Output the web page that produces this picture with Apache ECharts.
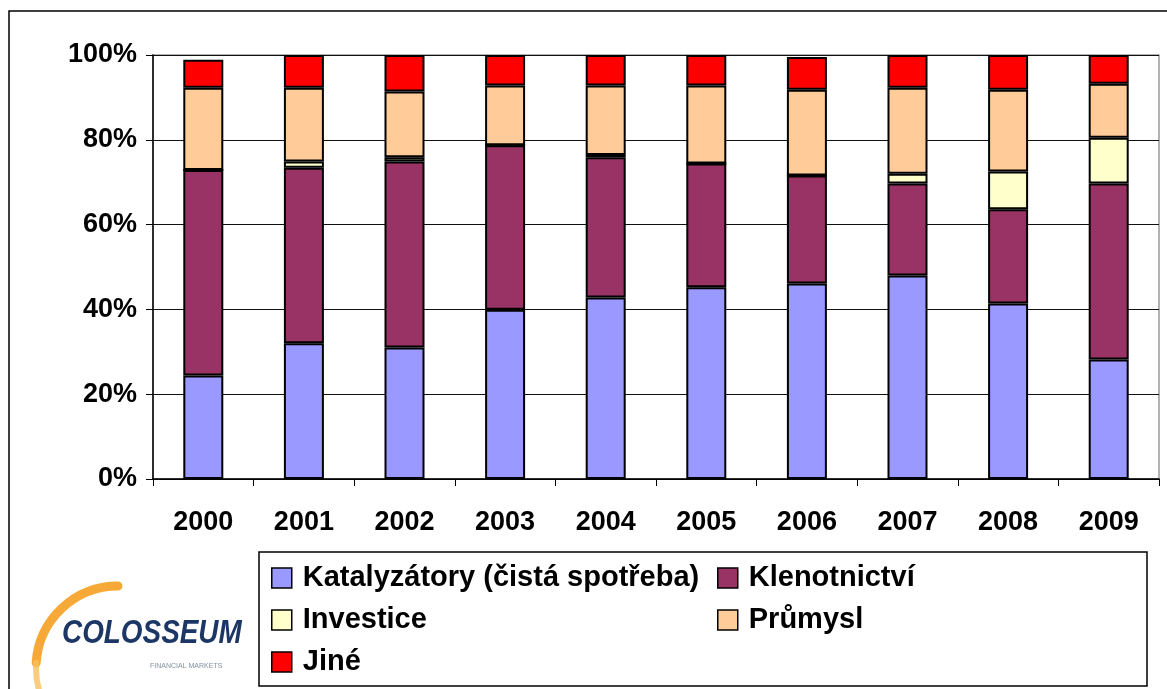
<!DOCTYPE html>
<html><head><meta charset="utf-8">
<script src="https://cdn.jsdelivr.net/npm/echarts@6/dist/echarts.min.js"></script>
<style>html,body{margin:0;padding:0;background:#fff}#c{width:1167px;height:689px}</style>
</head><body><div id="c"></div>
<script>
const years = ['2000','2001','2002','2003','2004','2005','2006','2007','2008','2009'];
const katalyzatory = [24.4, 32.0, 31.0, 39.9, 42.8, 45.2, 46.1, 48.0, 41.4, 28.2];
const klenotnictvi = [48.5, 41.4, 43.9, 38.8, 33.1, 29.2, 25.5, 21.7, 22.2, 41.5];
const investice    = [0.0, 1.5, 1.0, 0.0, 0.5, 0.0, 0.0, 2.3, 8.9, 10.8];
const prumysl      = [19.4, 17.4, 15.5, 14.1, 16.4, 18.4, 20.2, 20.3, 19.3, 12.7];
const jine         = [6.6, 7.7, 8.6, 7.2, 7.2, 7.2, 7.7, 7.7, 8.2, 6.8];
const seriesNames = ['Katalyzátory (čistá spotřeba)', 'Klenotnictví', 'Investice', 'Průmysl', 'Jiné'];
const seriesColors = ['#9999FF', '#993366', '#FFFFCC', '#FFCC99', '#FF0000'];
const yTicks = [0, 20, 40, 60, 80, 100];

const chart = echarts.init(document.getElementById('c'));
const font = 'Liberation Sans, Arial, sans-serif';
const allData = [katalyzatory, klenotnictvi, investice, prumysl, jine];
const series = allData.map((d, i) => ({
  name: seriesNames[i], type: 'bar', stack: 'total', data: d,
  barWidth: 40,
  itemStyle: { color: seriesColors[i], borderColor: '#000', borderWidth: 2 },
  emphasis: { disabled: true }
}));
const legendText = { fontFamily: font, fontSize: 29, fontWeight: 'bold', color: '#000', lineHeight: 30, padding: [0, 0, 0, 6] };
const legendCommon = {
  orient: 'vertical', top: 563, height: 140, itemWidth: 20, itemHeight: 20, itemGap: 12,
  icon: 'rect', textStyle: legendText, selectedMode: false, padding: 0,
  itemStyle: { borderColor: '#000', borderWidth: 1.5 }
};
chart.setOption({
  animation: false,
  backgroundColor: '#fff',
  grid: { left: 153, top: 55, width: 1006, height: 424, show: true, borderColor: '#999', borderWidth: 1.5 },
  xAxis: {
    type: 'category', data: years,
    axisLine: { lineStyle: { color: '#000', width: 1.5 } },
    axisTick: { show: true, length: 7, lineStyle: { color: '#000' } },
    axisLabel: { margin: 30, fontFamily: font, fontSize: 27, fontWeight: 'bold', color: '#000' }
  },
  yAxis: {
    type: 'value', min: 0, max: 100, interval: 20,
    axisLine: { show: true, lineStyle: { color: '#000', width: 1.5 } },
    axisTick: { show: true, length: 7, lineStyle: { color: '#000' } },
    splitLine: { lineStyle: { color: '#111', width: 1 } },
    axisLabel: { margin: 16, fontFamily: font, fontSize: 27, fontWeight: 'bold', color: '#000',
      formatter: v => yTicks.includes(v) ? v + '%' : '' }
  },
  legend: [
    Object.assign({}, legendCommon, { data: [seriesNames[0], seriesNames[2], seriesNames[4]], left: 271 }),
    Object.assign({}, legendCommon, { data: [seriesNames[1], seriesNames[3]], left: 717 })
  ],
  graphic: [
    { type: 'rect', shape: { x: 9, y: 11, width: 1200, height: 700 }, style: { fill: 'none', stroke: '#000', lineWidth: 1.5 }, silent: true },
    { type: 'rect', shape: { x: 259, y: 552, width: 888, height: 134 }, style: { fill: 'none', stroke: '#000', lineWidth: 1.5 }, silent: true },
    { type: 'arc', shape: { cx: 118, cy: 668, r: 82, startAngle: Math.PI * 1.02, endAngle: Math.PI * 1.5 },
      style: { stroke: '#F5A020', lineWidth: 9, fill: 'none', lineCap: 'round', opacity: 0.9 }, silent: true },
    { type: 'arc', shape: { cx: 118, cy: 668, r: 82, startAngle: Math.PI * 0.88, endAngle: Math.PI * 1.02 },
      style: { stroke: '#F8C060', lineWidth: 6, fill: 'none', lineCap: 'round', opacity: 0.8 }, silent: true },
    { type: 'text', x: 62, y: 617, scaleX: 0.82, style: { text: 'COLOSSEUM', fontFamily: font, fontSize: 34, fontWeight: 'bold', fontStyle: 'italic', fill: '#1C3766', stroke: '#fff', lineWidth: 1 }, silent: true },
    { type: 'text', x: 150, y: 663, style: { text: 'FINANCIAL MARKETS', fontFamily: font, fontSize: 7, fill: '#8090a0' }, silent: true }
  ],
  series: series
});
</script></body></html>
